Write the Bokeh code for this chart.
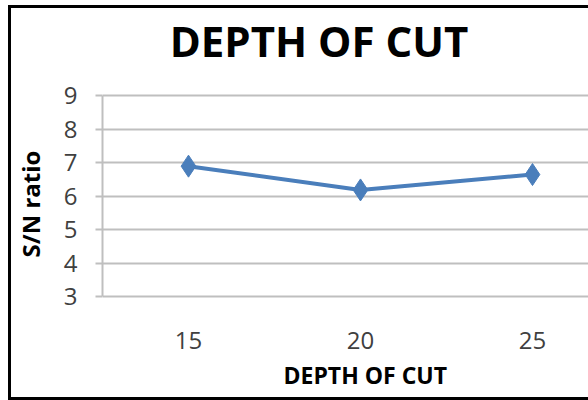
from bokeh.plotting import figure
from bokeh.models import FixedTicker, Range1d, Title, Label, GlobalInlineStyleSheet
from bokeh.embed import file_html
from bokeh.resources import INLINE

# Data: S/N ratio for each depth of cut level
depth_of_cut = [15, 20, 25]
sn_ratio = [6.90, 6.19, 6.65]
y_ticks = [3, 4, 5, 6, 7, 8, 9]
x_tick_labels = ["15", "20", "25"]

FONT = "Open Sans"
BLUE = "#4a7ebb"
GRID = "#bfbfbf"
TEXT = "#404040"

# the plot frame reaches up to the chart title; the value axis is bounded to 3..9
p = figure(
    width=588, height=400,
    output_backend="svg", toolbar_location=None,
    x_range=Range1d(12.5, 26.628), y_range=Range1d(2.472, 11.845),
    min_border_left=102, min_border_top=0,
    min_border_bottom=86, min_border_right=0,
)
p.outline_line_color = None
p.background_fill_color = "white"
p.border_fill_color = "white"

# chart border (left, top and bottom edges) drawn over the page
border_css = """
html, body { margin: 0; overflow: hidden; }
body::after {
  content: "";
  position: fixed;
  left: 8px; right: 0; top: 5px; height: 395px;
  box-sizing: border-box;
  border-left: 3px solid #000;
  border-top: 3px solid #000;
  border-bottom: 3px solid #000;
  pointer-events: none;
  z-index: 1000;
}
"""
p.stylesheets = [GlobalInlineStyleSheet(css=border_css)]

# x axis: category labels only
p.xaxis.ticker = FixedTicker(ticks=depth_of_cut)
p.xaxis.major_label_overrides = {v: s for v, s in zip(depth_of_cut, x_tick_labels)}
p.xaxis.axis_line_color = None
p.xaxis.major_tick_line_color = None
p.xaxis.major_tick_out = 0
p.xaxis.major_tick_in = 0
p.xaxis.minor_tick_line_color = None
p.xaxis.major_label_standoff = 17
p.xaxis.major_label_text_font = FONT
p.xaxis.major_label_text_font_size = "24px"
p.xaxis.major_label_text_color = TEXT
p.xgrid.grid_line_color = None

# y axis with outward ticks and horizontal gridlines
p.yaxis.ticker = FixedTicker(ticks=y_ticks)
p.yaxis.bounds = (3, 9)
p.yaxis.axis_line_color = GRID
p.yaxis.axis_line_width = 2
p.yaxis.major_tick_line_color = GRID
p.yaxis.major_tick_line_width = 2
p.yaxis.major_tick_in = 0
p.yaxis.major_tick_out = 7
p.yaxis.minor_tick_line_color = None
p.yaxis.major_label_standoff = 18
p.yaxis.major_label_text_font = FONT
p.yaxis.major_label_text_font_size = "24px"
p.yaxis.major_label_text_color = TEXT
p.ygrid.ticker = FixedTicker(ticks=y_ticks)
p.ygrid.grid_line_color = GRID
p.ygrid.grid_line_width = 2

# axis titles
p.add_layout(Title(text="DEPTH OF CUT", align="left", offset=181, standoff=10,
                   vertical_align="bottom",
                   text_font=FONT, text_font_style="bold",
                   text_font_size="23px", text_color="black"), "below")
p.add_layout(Title(text="S/N ratio", align="left", offset=57, standoff=24,
                   vertical_align="top",
                   text_font=FONT, text_font_style="bold",
                   text_font_size="24px", text_color="black"), "left")

# chart title
p.add_layout(Label(x=18.794, y=10.65, text="DEPTH OF CUT",
                   text_font=FONT, text_font_style="bold",
                   text_font_size="42px", text_color="black",
                   text_align="center", text_baseline="alphabetic"))

# series
p.line(depth_of_cut, sn_ratio, line_color=BLUE, line_width=4)
p.scatter(depth_of_cut, sn_ratio, marker="diamond", size=22,
          fill_color=BLUE, line_color=BLUE)

open("out.html", "w").write(file_html(p, INLINE))
